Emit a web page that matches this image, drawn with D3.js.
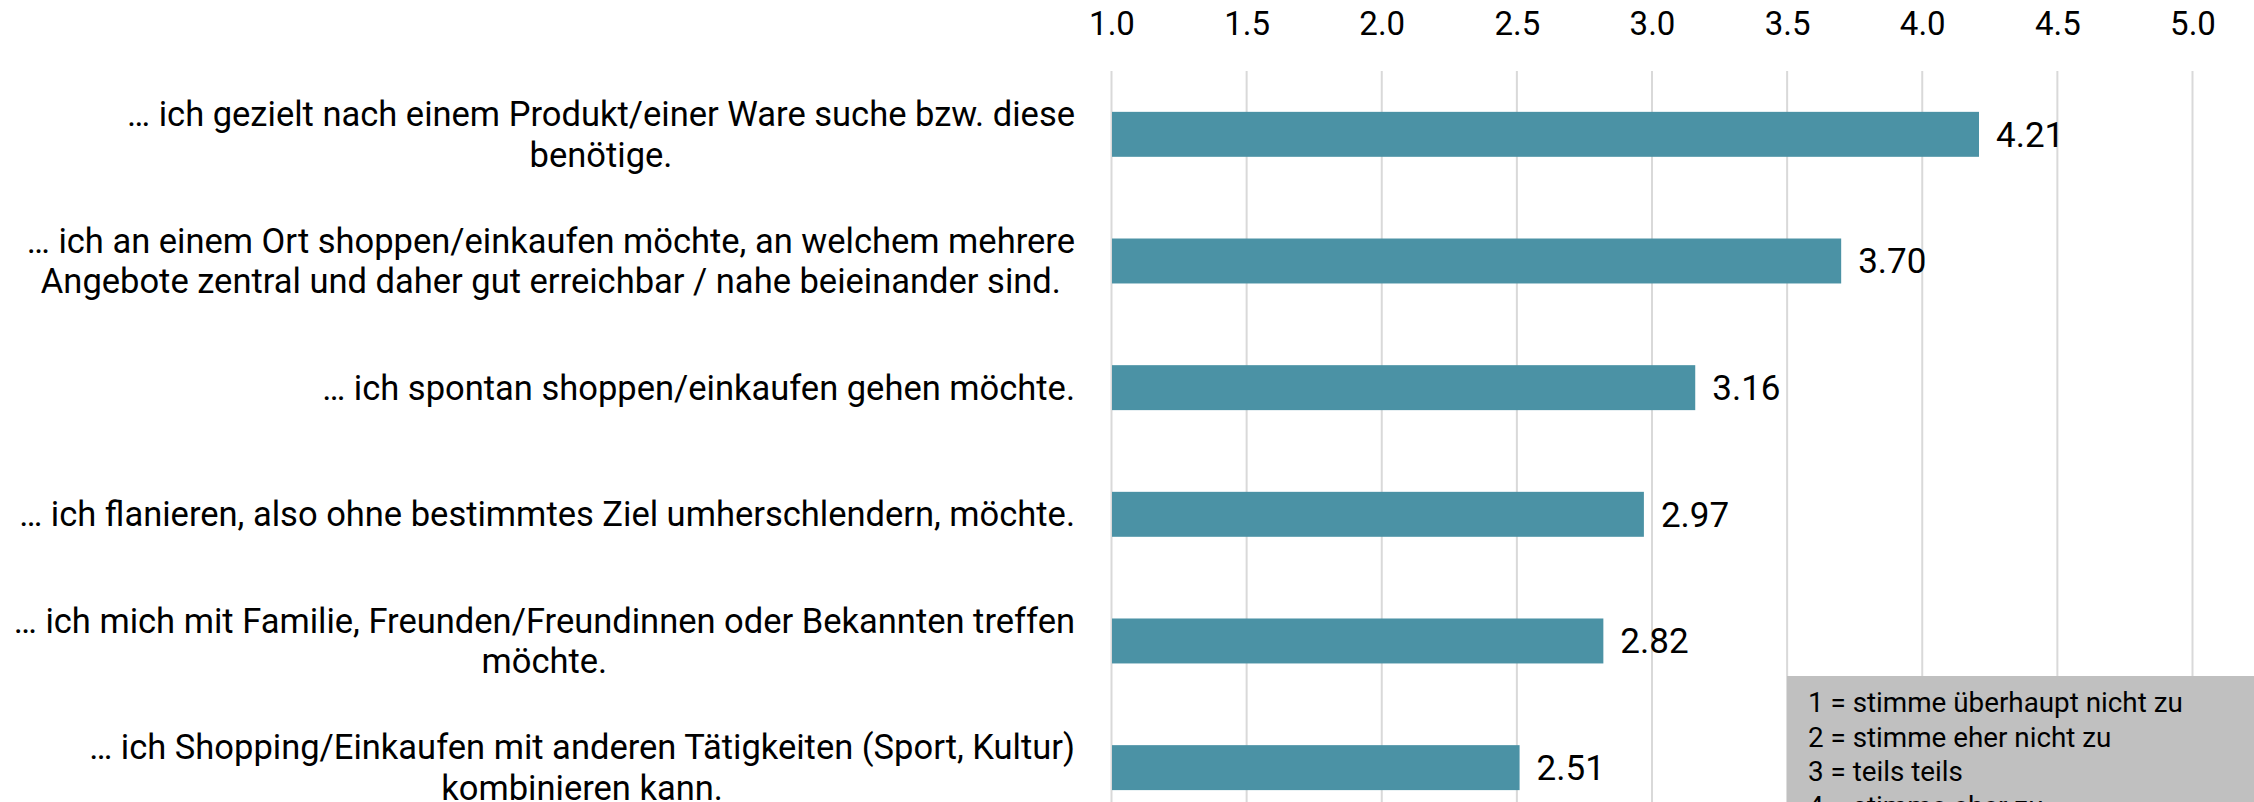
<!DOCTYPE html>
<html>
<head>
<meta charset="utf-8">
<script src="https://cdn.jsdelivr.net/npm/d3@7"></script>
<style>
  body { margin: 0; background: #fff; }
  svg { display: block; font-family: Roboto, "Noto Sans", sans-serif; }
</style>
</head>
<body>
<div id="wrapper"></div>
<script>
const categories = [
  "… ich gezielt nach einem Produkt/einer Ware suche bzw. diese\nbenötige.",
  "… ich an einem Ort shoppen/einkaufen möchte, an welchem mehrere\nAngebote zentral und daher gut erreichbar / nahe beieinander sind.",
  "… ich spontan shoppen/einkaufen gehen möchte.",
  "… ich flanieren, also ohne bestimmtes Ziel umherschlendern, möchte.",
  "… ich mich mit Familie, Freunden/Freundinnen oder Bekannten treffen\nmöchte.",
  "… ich Shopping/Einkaufen mit anderen Tätigkeiten (Sport, Kultur)\nkombinieren kann."
]
const values = [4.21, 3.70, 3.16, 2.97, 2.82, 2.51]
const tickValues = [1.0, 1.5, 2.0, 2.5, 3.0, 3.5, 4.0, 4.5, 5.0]
const legendLines = [
  "1 = stimme überhaupt nicht zu",
  "2 = stimme eher nicht zu",
  "3 = teils teils",
  "4 = stimme eher zu",
  "5 = stimme voll und ganz zu"
]

const dataset = categories.map((c, i) => ({label: c, value: values[i]}))

const dimensions = {
  width: 2254,
  height: 802,
  plotLeft: 1111.5,
  plotRight: 2192.5,
  plotTop: 71,
  step: 126.66
}

const wrapper = d3.select("#wrapper")
  .append("svg")
    .attr("width", dimensions.width)
    .attr("height", dimensions.height)

const xScale = d3.scaleLinear()
  .domain([1, 5])
  .range([dimensions.plotLeft, dimensions.plotRight])

const yScale = d3.scaleBand()
  .domain(categories)
  .range([dimensions.plotTop, dimensions.plotTop + dimensions.step * categories.length])
  .paddingInner(0.645)
  .paddingOuter(0.3225)

// gridlines
wrapper.append("g").selectAll("line")
  .data(tickValues)
  .enter().append("line")
    .attr("x1", d => xScale(d))
    .attr("x2", d => xScale(d))
    .attr("y1", dimensions.plotTop)
    .attr("y2", dimensions.height + 40)
    .attr("stroke", "#d9d9d9")
    .attr("stroke-width", 2)

// tick labels on top
const xAxisGenerator = d3.axisTop(xScale)
  .tickValues(tickValues)
  .tickFormat(d3.format(".1f"))
  .tickSize(0)
  .tickPadding(0)

const xAxis = wrapper.append("g")
  .attr("transform", "translate(0, 35)")
  .call(xAxisGenerator)
xAxis.select(".domain").remove()
xAxis.selectAll("text")
  .attr("fill", "#000")
  .style("font-size", "33px")
  .style("font-family", "Roboto, sans-serif")

// bars
wrapper.append("g").selectAll("rect")
  .data(dataset)
  .enter().append("rect")
    .attr("x", xScale(1) + 0.5)
    .attr("y", d => yScale(d.label))
    .attr("width", d => xScale(d.value) - xScale(1) - 0.5)
    .attr("height", yScale.bandwidth())
    .attr("fill", "#4b92a5")

// value labels
wrapper.append("g").selectAll("text")
  .data(dataset)
  .enter().append("text")
    .attr("x", d => xScale(d.value) + 17)
    .attr("y", d => yScale(d.label) + yScale.bandwidth() / 2)
    .attr("dy", "0.35em")
    .attr("fill", "#000")
    .style("font-size", "35px")
    .text(d => d3.format(".2f")(d.value))

// category labels, multi-line, centred block ending at labelRight
const labelRight = 1075
const lineHeight = 40.5
const labels = wrapper.append("g").selectAll("text")
  .data(dataset)
  .enter().append("text")
    .attr("fill", "#000")
    .style("font-size", "34.5px")
    .attr("text-anchor", "middle")

labels.each(function(d) {
  const lines = d.label.split("\n")
  const cy = yScale(d.label) + yScale.bandwidth() / 2
  const text = d3.select(this)
  lines.forEach((line, i) => {
    text.append("tspan")
      .attr("y", cy + (i - (lines.length - 1) / 2) * lineHeight)
      .attr("dy", "0.35em")
      .text(line)
  })
  const maxWidth = d3.max(text.selectAll("tspan").nodes(), n => n.getComputedTextLength())
  text.selectAll("tspan").attr("x", labelRight - maxWidth / 2)
})

// legend box
const legend = wrapper.append("g")
legend.append("rect")
  .attr("x", 1787)
  .attr("y", 676)
  .attr("width", dimensions.width - 1787 + 10)
  .attr("height", 200)
  .attr("fill", "#c0c0c0")

legend.selectAll("text")
  .data(legendLines)
  .enter().append("text")
    .attr("x", 1808)
    .attr("y", (d, i) => 712 + i * 34.5)
    .attr("fill", "#000")
    .style("font-size", "27.8px")
    .text(d => d)
</script>
</body>
</html>
